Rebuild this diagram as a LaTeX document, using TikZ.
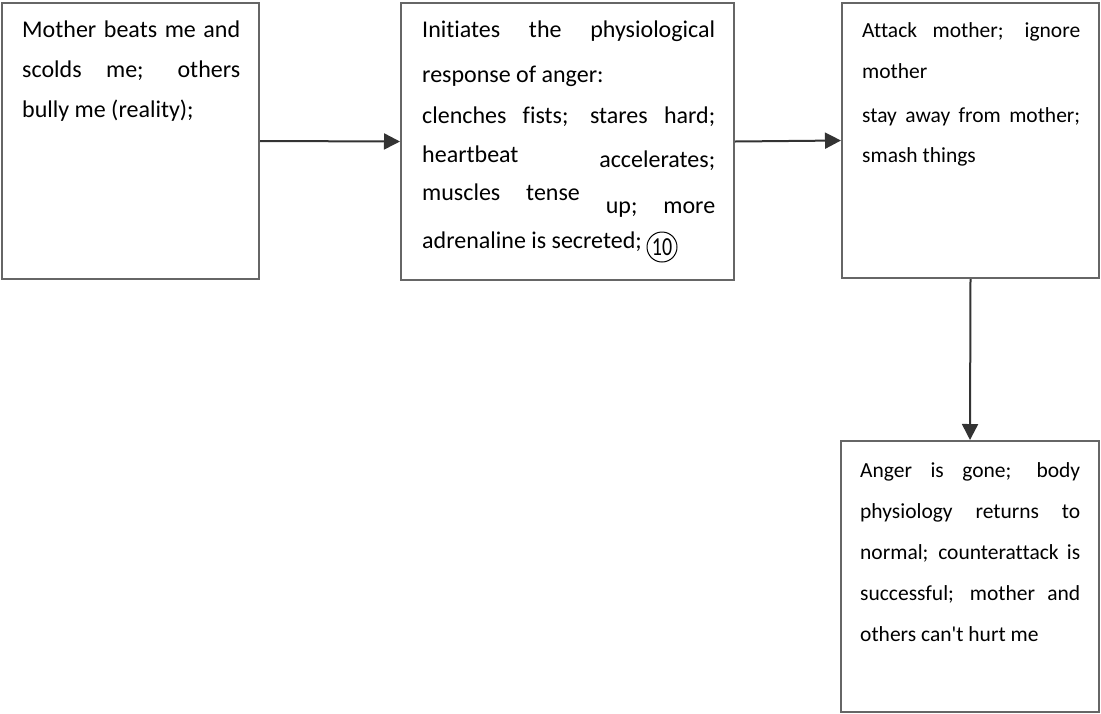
\documentclass[tikz,border=0pt]{standalone}
\usepackage{fontspec}
\setmainfont{Carlito}[Ligatures={NoCommon,TeXOff}]
\usetikzlibrary{arrows.meta}
\definecolor{boxgray}{HTML}{666666}
\definecolor{arrowgray}{HTML}{333333}
% one justified line of a box text
\newcommand{\jline}[1]{\makebox[\linewidth][s]{#1}}
\begin{document}
\begin{tikzpicture}[x=1pt,y=-1pt,
  box/.style={draw=boxgray, line width=2pt, rectangle, inner sep=0pt, anchor=north west},
  txt/.style={inner sep=0pt, anchor=base west, font=\fontsize{24}{40}\selectfont},
  smalltxt/.style={txt, font=\fontsize{21.5}{41}\selectfont},
  flow/.style={draw=arrowgray, line width=2pt, -{Triangle[length=16pt,width=16pt]}},
  circnum/.style={draw=black, circle, line width=1pt, minimum size=30pt, inner sep=0pt,
    font=\fontsize{20}{20}\selectfont}]
\useasboundingbox (0,0) rectangle (1101,713);

% boxes
\node[box, minimum width=257pt, minimum height=276pt] (b1) at (1,2) {};
\node[box, minimum width=333pt, minimum height=277pt] (b2) at (400,2) {};
\node[box, minimum width=257pt, minimum height=275pt] (b3) at (841,2) {};
\node[box, minimum width=258pt, minimum height=271pt] (b4) at (840,440) {};

% texts
\node[txt] (t1) at (22,37) {\parbox[t]{218pt}{%
  \jline{Mother beats me and}\\[0pt]
  \jline{scolds me; others}\\[0pt]
  bully me (reality);}};

\node[txt] (t2) at (422,37) {\parbox[t]{293pt}{%
  \jline{Initiates the physiological}\\[5pt]
  response of anger:\\[1pt]
  \jline{clenches fists; stares hard;}\\[-1pt]
  \jline{heartbeat \raisebox{-5pt}{accelerates;}}\\[-2pt]
  \jline{muscles tense \raisebox{-13pt}{up;} \raisebox{-13pt}{more}}\\[8pt]
  adrenaline is secreted;}};
\node[circnum] (c10) at (662,247) {\scalebox{1}[1.3]{10}};

\node[smalltxt] (t3) at (862,37) {\parbox[t]{218pt}{%
  \jline{Attack mother; ignore}\\[0pt]
  mother\\[3pt]
  \jline{stay away from mother;}\\[-1pt]
  smash things}};

\node[smalltxt] (t4) at (860,477) {\parbox[t]{220pt}{%
  \jline{Anger is gone; body}\\[0pt]
  \jline{physiology returns to}\\[0pt]
  \jline{normal; counterattack is}\\[0pt]
  \jline{successful; mother and}\\[0pt]
  others can't hurt me}};

% connectors
\draw[flow] (b1.east) -- (b2.west);
\draw[flow] (b2.east) -- (b3.west);
\draw[flow] (b3.south) -- (b4.north);
\end{tikzpicture}
\end{document}
